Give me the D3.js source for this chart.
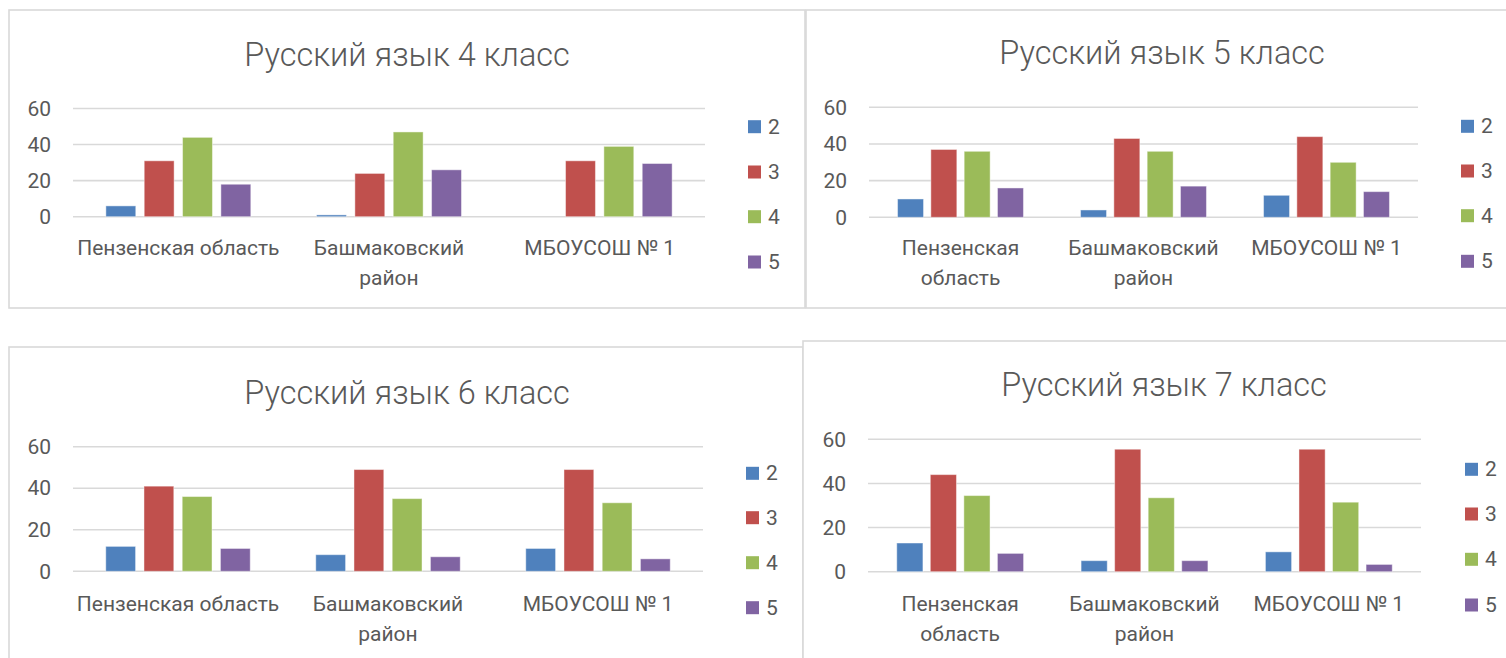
<!DOCTYPE html>
<html><head><meta charset="utf-8">
<script src="https://cdn.jsdelivr.net/npm/d3@7"></script>
<style>
html,body{margin:0;padding:0;background:#fff;overflow:hidden;}
svg{display:block;}
</style></head>
<body>
<svg id="c" width="1506" height="658"></svg>
<script>
// ---- data ----
const categories = ["Пензенская область", "Башмаковский район", "МБОУСОШ № 1"];
const labelsWide = [["Пензенская область"], ["Башмаковский", "район"], ["МБОУСОШ № 1"]];
const labelsNarrow = [["Пензенская", "область"], ["Башмаковский", "район"], ["МБОУСОШ № 1"]];
const seriesNames = ["2", "3", "4", "5"];
const seriesColors = ["#4F81BD", "#C0504D", "#9BBB59", "#8064A2"];
const yTicks = [0, 20, 40, 60];
const titles = ["Русский язык 4 класс", "Русский язык 5 класс", "Русский язык 6 класс", "Русский язык 7 класс"];
// values per series (rows: marks 2,3,4,5; columns: categories)
const grade4 = [[6, 1, 0], [31, 24, 31], [44, 47, 39], [18, 26, 29.5]];
const grade5 = [[10, 4, 12], [37, 43, 44], [36, 36, 30], [16, 17, 14]];
const grade6 = [[12, 8, 11], [41, 49, 49], [36, 35, 33], [11, 7, 6]];
const grade7 = [[13, 5, 9], [44, 55.5, 55.5], [34.5, 33.5, 31.5], [8.3, 5, 3.3]];

// ---- layout ----
const charts = [
  {data: grade4, title: titles[0], labels: labelsWide,
   box: [9, 10, 796, 298], plotX: [73, 705], plotY: [216.7, 108.5], titleXY: [407, 55],
   labelY: 248, legendX: 748, legendY: [126.7, 172, 216.7, 262]},
  {data: grade5, title: titles[1], labels: labelsNarrow,
   box: [806, 10, 730, 298], plotX: [869, 1418], plotY: [217.3, 107.3], titleXY: [1162, 53],
   labelY: 248, legendX: 1461, legendY: [126.3, 171, 215.7, 261.3]},
  {data: grade6, title: titles[2], labels: labelsWide,
   box: [9, 347, 794, 330], plotX: [73, 703], plotY: [571.3, 446.7], titleXY: [407, 393],
   labelY: 604, legendX: 746, legendY: [473.3, 517.7, 562.7, 607.7]},
  {data: grade7, title: titles[3], labels: labelsNarrow,
   box: [803, 341, 730, 330], plotX: [868, 1421], plotY: [571.7, 439.3], titleXY: [1164, 385],
   labelY: 604, legendX: 1465, legendY: [469.3, 514, 559.3, 605]}
];

const FONT = "Roboto, 'Noto Sans', sans-serif";
const TXT = "#595959";
const svg = d3.select("#c");

charts.forEach(cfg => {
  const g = svg.append("g");
  const [bx, by, bw, bh] = cfg.box;
  g.append("rect").attr("x", bx).attr("y", by).attr("width", bw).attr("height", bh)
    .attr("fill", "#fff").attr("stroke", "#D9D9D9").attr("stroke-width", 1.6);

  g.append("text").attr("x", cfg.titleXY[0]).attr("y", cfg.titleXY[1])
    .attr("text-anchor", "middle").attr("dominant-baseline", "central")
    .attr("font-family", FONT).attr("font-weight", 300).attr("font-size", 32.5)
    .attr("fill", TXT).text(cfg.title);

  const x0 = d3.scaleBand().domain(categories).range(cfg.plotX).paddingInner(0).paddingOuter(0);
  const bwid = x0.bandwidth();
  const x1 = d3.scaleBand().domain(seriesNames).range([bwid * 0.156, bwid * 0.844]).paddingInner(0.22).paddingOuter(0);
  const y = d3.scaleLinear().domain([0, 60]).range(cfg.plotY);

  // gridlines
  g.append("g").selectAll("line").data(yTicks).join("line")
    .attr("x1", cfg.plotX[0]).attr("x2", cfg.plotX[1])
    .attr("y1", d => y(d)).attr("y2", d => y(d))
    .attr("stroke", "#D9D9D9").attr("stroke-width", 1.6);

  // y axis labels
  const yAxis = d3.axisLeft(y).tickValues(yTicks).tickSize(0).tickPadding(22);
  const ya = g.append("g").attr("transform", `translate(${cfg.plotX[0]},0)`).call(yAxis);
  ya.select(".domain").remove();
  ya.selectAll("text").attr("font-family", FONT).attr("font-size", 21).attr("fill", TXT);

  // bars
  const groups = g.append("g").selectAll("g").data(categories).join("g")
    .attr("transform", d => `translate(${x0(d)},0)`);
  groups.selectAll("rect").data((c, ci) => seriesNames.map((s, si) => ({s, si, v: cfg.data[si][ci]})))
    .join("rect")
    .attr("x", d => x1(d.s)).attr("width", x1.bandwidth())
    .attr("y", d => y(d.v)).attr("height", d => y(0) - y(d.v))
    .attr("fill", d => seriesColors[d.si])
    .attr("stroke", "rgba(255,255,255,0.45)").attr("stroke-width", 1)
    .style("display", d => d.v > 0 ? null : "none");

  // category labels
  const lab = g.append("g").selectAll("text").data(categories).join("text")
    .attr("x", d => x0(d) + bwid / 2).attr("y", cfg.labelY)
    .attr("text-anchor", "middle").attr("dominant-baseline", "central")
    .attr("font-family", FONT).attr("font-size", 21).attr("fill", TXT);
  lab.each(function (d, i) {
    d3.select(this).selectAll("tspan").data(cfg.labels[i]).join("tspan")
      .attr("x", x0(d) + bwid / 2).attr("dy", (t, k) => k === 0 ? 0 : 30).text(t => t);
  });

  // legend
  const leg = g.append("g").selectAll("g").data(seriesNames).join("g")
    .attr("transform", (d, i) => `translate(${cfg.legendX},${cfg.legendY[i]})`);
  leg.append("rect").attr("x", 0).attr("y", -6.5).attr("width", 13).attr("height", 13)
    .attr("fill", (d, i) => seriesColors[i]);
  leg.append("text").attr("x", 20).attr("y", 0).attr("dominant-baseline", "central")
    .attr("font-family", FONT).attr("font-size", 21).attr("fill", TXT).text(d => d);
});
</script>
</body></html>
